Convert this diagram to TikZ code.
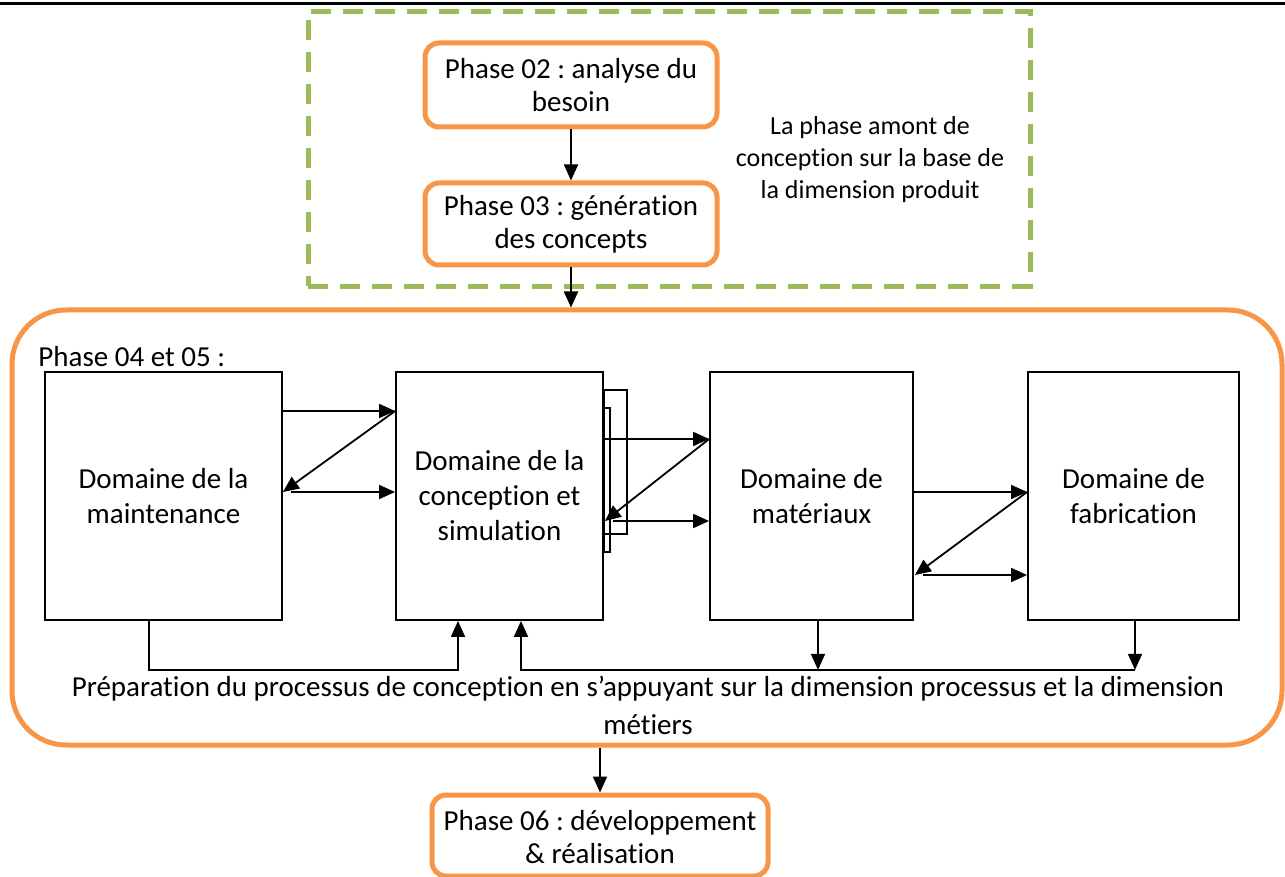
\documentclass[tikz,border=0pt]{standalone}
\usepackage{fontspec}
\setmainfont{Carlito}[Ligatures=NoCommon]
\frenchspacing
\usetikzlibrary{arrows.meta,positioning,calc}
\definecolor{phaseor}{HTML}{F79646}
\definecolor{amontgr}{HTML}{9BBB59}
\definecolor{ink}{HTML}{000000}
\tikzset{
  phase/.style={draw=phaseor, fill=white, rounded corners=7pt, line width=2.5pt,
                align=center, inner sep=2pt, font=\fontsize{14.5}{16.5}\selectfont},
  bigbox/.style={draw=phaseor, rounded corners=27pt, line width=2.5pt, inner sep=0pt},
  amontbox/.style={draw=amontgr, line width=2.5pt, dash pattern=on 10pt off 6pt, inner sep=0pt},
  domainbox/.style={draw=ink, line width=0.9pt, minimum height=124pt,
                 align=center, inner sep=2pt, font=\fontsize{14.5}{17.5}\selectfont},
  arrow/.style={-{Triangle[length=8pt,width=7pt]}, line width=0.9pt, draw=ink},
  note/.style={align=center, inner sep=0pt, font=\fontsize{13}{16}\selectfont},
  bodytext/.style={align=center, inner sep=0pt, font=\fontsize{14.5}{16}\selectfont}
}
\begin{document}
\begin{tikzpicture}[x=0.5pt,y=-0.5pt]
  \useasboundingbox (0,0) rectangle (1285,877);
  \draw[line width=1.5pt] (0,4) -- (1285,4);
  % phase amont
  \node[amontbox, minimum width=361pt, minimum height=137.5pt] (amont) at (669,149) {};
  \node[phase, minimum width=146pt, minimum height=42pt] (besoin) at (571,85)
    {Phase 02 : analyse du\\besoin};
  \node[phase, minimum width=146pt, minimum height=41pt] (concepts) at (571,224)
    {Phase 03 : génération\\des concepts};
  \node[note] (amonttxt) at (870,160) {La phase amont de\\conception sur la base de\\la dimension produit};
  \draw[arrow] (besoin) -- (concepts);
  % phases 04 et 05
  \node[bigbox, minimum width=635pt, minimum height=217.5pt] (phases45) at (647,527.5) {};
  \node[bodytext, anchor=west] (titre45) at (38,357) {Phase 04 et 05 :};
  \draw[arrow] (concepts.south) -- (concepts.south |- phases45.north);
  \node[domainbox, minimum width=118.5pt] (maint) at (163.5,496) {Domaine de la\\maintenance};
  \node[domainbox, minimum width=103.5pt] (concep) at (499.5,496) {Domaine de la\\conception et\\simulation};
  \node[domainbox, minimum width=101.5pt] (mater) at (811.5,496) {Domaine de\\matériaux};
  \node[domainbox, minimum width=105.5pt] (fabr) at (1133.5,496) {Domaine de\\fabrication};
  \draw[line width=0.9pt] ([shift={(0,-106)}]concep.east) rectangle ++(23,144);
  \draw[line width=0.9pt] ([shift={(0,-88)}]concep.east) rectangle ++(6,144);
  % echanges entre domaines
  \draw[arrow] ([shift={(0,-85)}]maint.east) -- ([shift={(0,-85)}]concep.west);
  \draw[arrow] ([shift={(0,-85)}]concep.west) -- ([shift={(0,-4)}]maint.east);
  \draw[arrow] ([shift={(8,-4)}]maint.east) -- ([shift={(0,-4)}]concep.west);
  \draw[arrow] ([shift={(0,-57)}]concep.east) -- ([shift={(0,-57)}]mater.west);
  \draw[arrow] ([shift={(0,-57)}]mater.west) -- ([shift={(1,25)}]concep.east);
  \draw[arrow] ([shift={(9,25)}]concep.east) -- ([shift={(0,25)}]mater.west);
  \draw[arrow] ([shift={(0,-4)}]mater.east) -- ([shift={(0,-4)}]fabr.west);
  \draw[arrow] ([shift={(0,-4)}]fabr.west) -- ([shift={(1,79)}]mater.east);
  \draw[arrow] ([shift={(9,79)}]mater.east) -- ([shift={(0,79)}]fabr.west);
  % preparation du processus
  \draw[arrow] ([shift={(-14.5,0)}]maint.south) -- ++(0,49) -| ([shift={(-41.5,0)}]concep.south);
  \draw[arrow] ([shift={(6.5,0)}]mater.south) -- ++(0,49);
  \draw[arrow] ([shift={(1.5,0)}]fabr.south) -- ++(0,49);
  \draw[arrow] ([shift={(1.5,49)}]fabr.south) -| ([shift={(21.5,0)}]concep.south);
  \node[bodytext] (prep) at (648,705)
    {Préparation du processus de conception en s’appuyant sur la dimension processus et la dimension\\[3pt]métiers};
  % phase 06
  \node[phase, minimum width=168pt, minimum height=40.5pt] (realis) at (600,835.5)
    {\rule{0pt}{12pt}Phase 06 : développement\\\& réalisation};
  \draw[arrow] (phases45.south -| realis.north) -- (realis.north);
\end{tikzpicture}
\end{document}
